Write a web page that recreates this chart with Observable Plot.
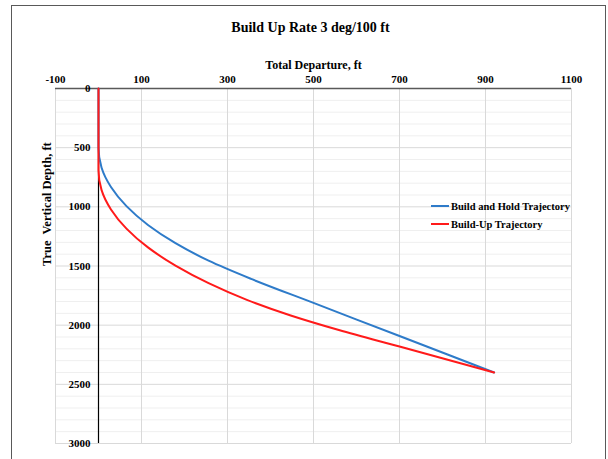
<!DOCTYPE html>
<html><head><meta charset="utf-8">
<script src="https://cdn.jsdelivr.net/npm/d3@7"></script>
<script src="https://cdn.jsdelivr.net/npm/@observablehq/plot@0.6"></script>
<style>
body{margin:0;background:#fff;}
#wrap{position:relative;width:608px;height:459px;overflow:hidden;}
#border{position:absolute;left:11px;top:5px;width:595px;height:480px;border:1px solid #595959;box-sizing:border-box;pointer-events:none;}
svg text{white-space:pre;}
</style></head><body><div id="wrap"><div id="border"></div></div>
<script>
const title = "Build Up Rate 3 deg/100 ft";
const xTitle = "Total Departure, ft";
const yTitle = "True  Vertical Depth, ft";
const seriesNames = ["Build and Hold Trajectory", "Build-Up Trajectory"];
const seriesColors = ["#2e7bc9", "#ff1a1a"];
const xTicks = [-100, 100, 300, 500, 700, 900, 1100];
const yTicks = [0, 500, 1000, 1500, 2000, 2500, 3000];
const yMinor = [100, 200, 300, 400, 600, 700, 800, 900, 1100, 1200, 1300, 1400, 1600, 1700, 1800, 1900,
                2100, 2200, 2300, 2400, 2600, 2700, 2800, 2900];

// Build and Hold Trajectory (departure ft, TVD ft)
const holdDeparture = [0, 0, 7, 29, 65, 115, 179, 256, 355, 500, 700, 920];
const holdDepth     = [0, 500, 667, 832, 994, 1153, 1307, 1455, 1609, 1812, 2092, 2400];
// Build-Up Trajectory
const buildDeparture = [0, 0, 7, 29, 65, 115, 179, 256, 345, 447, 559, 700, 920];
const buildDepth     = [0, 690, 857, 1022, 1184, 1343, 1497, 1645, 1786, 1918, 2041, 2181, 2400];

const rows = [
  ...holdDeparture.map((x, i) => ({x, y: holdDepth[i], s: seriesNames[0]})),
  ...buildDeparture.map((x, i) => ({x, y: buildDepth[i], s: seriesNames[1]}))
];

const font = "'Liberation Serif','Times New Roman',serif";

const chart = Plot.plot({
  width: 608, height: 459,
  marginLeft: 55, marginRight: 37, marginTop: 88, marginBottom: 16,
  style: {fontFamily: font, background: "transparent", color: "#000"},
  x: {domain: [-100, 1100], axis: null},
  y: {domain: [0, 3000], reverse: true, axis: null},
  color: {domain: seriesNames, range: seriesColors},
  marks: [
    Plot.ruleY(yMinor, {stroke: "#efefef", strokeWidth: 1}),
    Plot.ruleY(yTicks.slice(1), {stroke: "#d9d9d9", strokeWidth: 1}),
    Plot.ruleX(xTicks, {stroke: "#d9d9d9", strokeWidth: 1}),
    Plot.ruleY([0], {stroke: "#595959", strokeWidth: 1.3}),
    Plot.ruleX([0], {stroke: "#000", strokeWidth: 1.2}),
    Plot.line(rows, {x: "x", y: "y", z: "s", stroke: "s", strokeWidth: 2, curve: "monotone-y"}),
    Plot.text(xTicks, {x: d => d, frameAnchor: "top", dy: -13, fontSize: 11, fontWeight: "bold", text: d => String(d)}),
    Plot.text(yTicks, {y: d => d, x: 0, dx: -8, textAnchor: "end", fontSize: 11, fontWeight: "bold", text: d => String(d)}),
    Plot.text([title], {frameAnchor: "top", dy: -66, dx: -3, fontSize: 14, fontWeight: "bold"}),
    Plot.text([xTitle], {frameAnchor: "top", dy: -28, fontSize: 12, fontWeight: "bold"}),
    Plot.text([yTitle], {frameAnchor: "left", dx: -9, rotate: -90, fontSize: 12.5, fontWeight: "bold"})
  ]
});

// legend
const svg = d3.select(chart);
const leg = svg.append("g").attr("font-family", font).attr("font-size", 10.5)
  .attr("font-weight", "bold").attr("text-anchor", "start");
seriesNames.forEach((name, i) => {
  const yy = 206 + i * 18;
  leg.append("line").attr("x1", 431).attr("x2", 449).attr("y1", yy).attr("y2", yy)
    .attr("stroke", seriesColors[i]).attr("stroke-width", 2);
  leg.append("text").attr("x", 451).attr("y", yy).attr("dy", "0.35em")
    .attr("text-anchor", "start").attr("fill", "#000").text(name);
});

document.getElementById("wrap").appendChild(chart);
chart.style.position = "absolute";
chart.style.left = "0";
chart.style.top = "0";
</script>
</body></html>
